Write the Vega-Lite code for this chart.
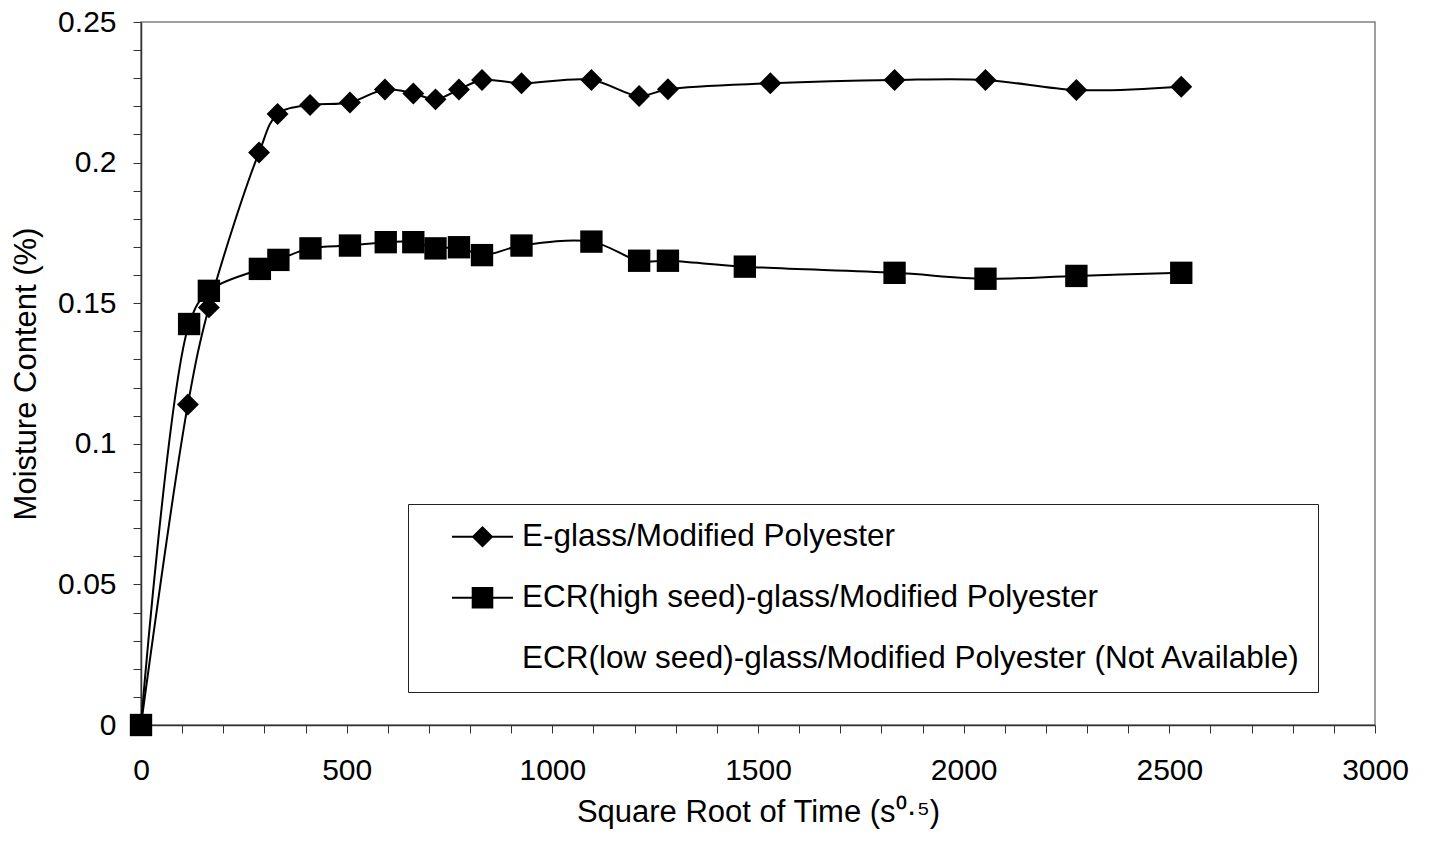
{
  "$schema": "https://vega.github.io/schema/vega-lite/v6.json",
  "width": 1234,
  "height": 703,
  "autosize": {"type": "none"},
  "padding": {"left": 141, "top": 22, "right": 54, "bottom": 119},
  "background": "white",
  "config": {
    "font": "Liberation Sans",
    "view": {"stroke": "#808080", "strokeWidth": 1.5},
    "axis": {
      "grid": false,
      "domainColor": "#333333",
      "domainWidth": 1.5,
      "tickColor": "#333333",
      "tickWidth": 1,
      "tickSize": 8,
      "labelFont": "Liberation Sans",
      "labelFontSize": 30,
      "labelColor": "black",
      "titleFont": "Liberation Sans",
      "titleFontSize": 31,
      "titleFontWeight": "normal",
      "titleColor": "black"
    }
  },
  "data": {
    "values": [
      {"series": "E-glass/Modified Polyester", "t": 0, "m": 0},
      {"series": "E-glass/Modified Polyester", "t": 114, "m": 0.114},
      {"series": "E-glass/Modified Polyester", "t": 165, "m": 0.1485},
      {"series": "E-glass/Modified Polyester", "t": 287, "m": 0.2036},
      {"series": "E-glass/Modified Polyester", "t": 332, "m": 0.2173},
      {"series": "E-glass/Modified Polyester", "t": 411, "m": 0.2205},
      {"series": "E-glass/Modified Polyester", "t": 508, "m": 0.2214},
      {"series": "E-glass/Modified Polyester", "t": 593, "m": 0.226},
      {"series": "E-glass/Modified Polyester", "t": 662, "m": 0.2246},
      {"series": "E-glass/Modified Polyester", "t": 716, "m": 0.2225},
      {"series": "E-glass/Modified Polyester", "t": 773, "m": 0.226},
      {"series": "E-glass/Modified Polyester", "t": 829, "m": 0.2294},
      {"series": "E-glass/Modified Polyester", "t": 925, "m": 0.2282},
      {"series": "E-glass/Modified Polyester", "t": 1095, "m": 0.2294},
      {"series": "E-glass/Modified Polyester", "t": 1211, "m": 0.2237},
      {"series": "E-glass/Modified Polyester", "t": 1281, "m": 0.2261},
      {"series": "E-glass/Modified Polyester", "t": 1530, "m": 0.2282},
      {"series": "E-glass/Modified Polyester", "t": 1832, "m": 0.2294},
      {"series": "E-glass/Modified Polyester", "t": 2053, "m": 0.2294},
      {"series": "E-glass/Modified Polyester", "t": 2274, "m": 0.2258},
      {"series": "E-glass/Modified Polyester", "t": 2529, "m": 0.227},
      {"series": "ECR(high seed)-glass/Modified Polyester", "t": 0, "m": 0},
      {"series": "ECR(high seed)-glass/Modified Polyester", "t": 117, "m": 0.1426},
      {"series": "ECR(high seed)-glass/Modified Polyester", "t": 165, "m": 0.1544},
      {"series": "ECR(high seed)-glass/Modified Polyester", "t": 289, "m": 0.1622},
      {"series": "ECR(high seed)-glass/Modified Polyester", "t": 334, "m": 0.1654},
      {"series": "ECR(high seed)-glass/Modified Polyester", "t": 412, "m": 0.1695},
      {"series": "ECR(high seed)-glass/Modified Polyester", "t": 508, "m": 0.1705},
      {"series": "ECR(high seed)-glass/Modified Polyester", "t": 595, "m": 0.1717},
      {"series": "ECR(high seed)-glass/Modified Polyester", "t": 662, "m": 0.1717},
      {"series": "ECR(high seed)-glass/Modified Polyester", "t": 716, "m": 0.1695},
      {"series": "ECR(high seed)-glass/Modified Polyester", "t": 773, "m": 0.1699},
      {"series": "ECR(high seed)-glass/Modified Polyester", "t": 829, "m": 0.1671},
      {"series": "ECR(high seed)-glass/Modified Polyester", "t": 925, "m": 0.1705},
      {"series": "ECR(high seed)-glass/Modified Polyester", "t": 1095, "m": 0.1719},
      {"series": "ECR(high seed)-glass/Modified Polyester", "t": 1211, "m": 0.1651},
      {"series": "ECR(high seed)-glass/Modified Polyester", "t": 1281, "m": 0.1651},
      {"series": "ECR(high seed)-glass/Modified Polyester", "t": 1468, "m": 0.163},
      {"series": "ECR(high seed)-glass/Modified Polyester", "t": 1832, "m": 0.1608},
      {"series": "ECR(high seed)-glass/Modified Polyester", "t": 2053, "m": 0.1587},
      {"series": "ECR(high seed)-glass/Modified Polyester", "t": 2274, "m": 0.1597},
      {"series": "ECR(high seed)-glass/Modified Polyester", "t": 2529, "m": 0.1608}
    ]
  },
  "encoding": {
    "x": {
      "field": "t",
      "type": "quantitative",
      "scale": {"domain": [0, 3000], "nice": false},
      "axis": {
        "title": "Square Root of Time (s⁰·⁵)",
        "values": [0,100,200,300,400,500,600,700,800,900,1000,1100,1200,1300,1400,1500,1600,1700,1800,1900,2000,2100,2200,2300,2400,2500,2600,2700,2800,2900,3000],
        "labelExpr": "datum.value % 500 == 0 ? datum.label : ''",
        "format": "d",
        "labelPadding": 22,
        "titlePadding": 12,
        "labelFlush": false,
        "labelOverlap": false
      }
    },
    "y": {
      "field": "m",
      "type": "quantitative",
      "scale": {"domain": [0, 0.25], "nice": false},
      "axis": {
        "title": "Moisture Content (%)",
        "values": [0,0.01,0.02,0.03,0.04,0.05,0.06,0.07,0.08,0.09,0.1,0.11,0.12,0.13,0.14,0.15,0.16,0.17,0.18,0.19,0.2,0.21,0.22,0.23,0.24,0.25],
        "labelExpr": "abs(datum.value * 20 - round(datum.value * 20)) < 0.001 ? format(datum.value, '.2~f') : ''",
        "labelPadding": 17,
        "titlePadding": 15,
        "labelFlush": false,
        "labelOverlap": false
      }
    }
  },
  "layer": [
    {
      "mark": {"type": "line", "color": "black", "strokeWidth": 2, "interpolate": "catmull-rom"},
      "encoding": {"detail": {"field": "series"}}
    },
    {
      "transform": [{"filter": "datum.series == 'E-glass/Modified Polyester'"}],
      "mark": {"type": "point", "shape": "diamond", "filled": true, "color": "black", "opacity": 1, "size": 480}
    },
    {
      "transform": [{"filter": "datum.series == 'ECR(high seed)-glass/Modified Polyester'"}],
      "mark": {"type": "point", "shape": "square", "filled": true, "color": "black", "opacity": 1, "size": 500}
    },
    {
      "transform": [{"filter": "datum.t < 0"}],
      "mark": {"type": "point", "filled": true, "color": "black", "strokeWidth": 0, "opacity": 1},
      "encoding": {
        "shape": {
          "field": "series",
          "type": "nominal",
          "scale": {
            "domain": ["E-glass/Modified Polyester", "ECR(high seed)-glass/Modified Polyester", "ECR(low seed)-glass/Modified Polyester (Not Available)"],
            "range": [
              "M-2.033,-0.067H2.033V0.067H-2.033ZM0,-0.723L0.723,0L0,0.723L-0.723,0Z",
              "M-2.033,-0.067H2.033V0.067H-2.033ZM-0.72,-0.72H0.72V0.72H-0.72Z",
              "M0,0"
            ]
          },
          "legend": {
            "title": null,
            "orient": "none",
            "legendX": 267,
            "legendY": 482,
            "padding": 17,
            "strokeColor": "#222222",
            "fillColor": "white",
            "symbolSize": 900,
            "symbolOffset": 41.75,
            "symbolStrokeWidth": 0,
            "symbolFillColor": "black",
            "symbolOpacity": 1,
            "labelOffset": 23.75,
            "labelFontSize": 31.5,
            "labelFont": "Liberation Sans",
            "labelColor": "black",
            "labelLimit": 2000,
            "rowPadding": 28
          }
        }
      }
    }
  ]
}
